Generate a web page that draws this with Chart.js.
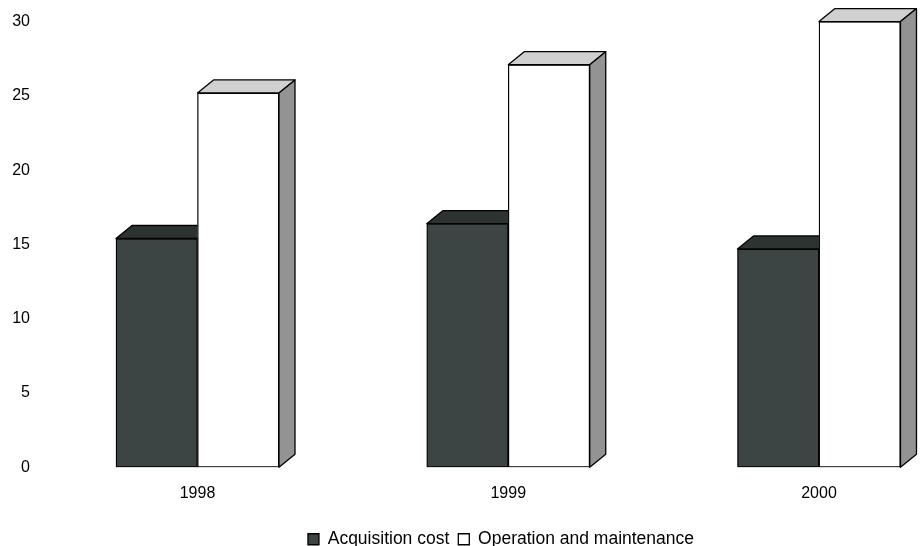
<!DOCTYPE html>
<html>
<head>
<meta charset="utf-8">
<script src="https://cdn.jsdelivr.net/npm/chart.js@4/dist/chart.umd.min.js"></script>
<style>
  html, body { margin: 0; padding: 0; background: #fff; }
  #wrap { width: 923px; height: 546px; }
</style>
</head>
<body>
<div id="wrap"><canvas id="costChart"></canvas></div>
<script>
// data
const years = [1998, 1999, 2000];
const acquisitionCost = [15.4, 16.4, 14.7];
const operationMaintenance = [25.2, 27.1, 30.0];
const yTicks = [0, 5, 10, 15, 20, 25, 30];

const depthX = 16;
const depthY = 13;

// draws the top and side faces so the bars look 3D
const bar3d = {
    id: "bar3d",
    afterLayout(chart) {
        // legend in the original sits a bit right of center
        chart.legend.left += 46;
        chart.legend.right += 46;
    },
    afterDatasetsDraw(chart) {
        const ctx = chart.ctx;
        const metas = chart.getSortedVisibleDatasetMetas();
        metas.forEach((meta, i) => {
            const ds = chart.data.datasets[meta.index];
            const last = i === metas.length - 1;
            meta.data.forEach((bar) => {
                const p = bar.getProps(["x", "y", "base", "width"], true);
                const l = p.x - p.width / 2;
                const r = p.x + p.width / 2;
                ctx.save();
                ctx.lineWidth = 1.3;
                ctx.lineJoin = "round";
                ctx.strokeStyle = "#000";
                if (!last) {
                    // the next bar hides the rest of this top face
                    ctx.beginPath();
                    ctx.rect(0, 0, r, chart.height);
                    ctx.clip();
                }
                ctx.beginPath();
                ctx.moveTo(l, p.y);
                ctx.lineTo(r, p.y);
                ctx.lineTo(r + depthX, p.y - depthY);
                ctx.lineTo(l + depthX, p.y - depthY);
                ctx.closePath();
                ctx.fillStyle = ds.topColor;
                ctx.fill();
                ctx.stroke();
                if (last) {
                    ctx.beginPath();
                    ctx.moveTo(r, p.y);
                    ctx.lineTo(r + depthX, p.y - depthY);
                    ctx.lineTo(r + depthX, p.base - depthY);
                    ctx.lineTo(r, p.base);
                    ctx.closePath();
                    ctx.fillStyle = ds.sideColor;
                    ctx.fill();
                    ctx.stroke();
                }
                ctx.restore();
            });
        });
    }
};

Chart.defaults.font.family = "'Liberation Sans', Arial, sans-serif";
Chart.defaults.font.size = 16;
Chart.defaults.color = "#000";

new Chart(document.getElementById("costChart"), {
    type: "bar",
    data: {
        datasets: [
            {
                label: "Acquisition cost",
                data: years.map((y, i) => ({ x: y, y: acquisitionCost[i] })),
                backgroundColor: "#3c4543",
                topColor: "#2c3331",
                sideColor: "#2c3331",
                borderColor: "#000",
                borderWidth: 1.3,
                borderSkipped: false,
            },
            {
                label: "Operation and maintenance",
                data: years.map((y, i) => ({ x: y, y: operationMaintenance[i] })),
                backgroundColor: "#ffffff",
                topColor: "#d0d0d0",
                sideColor: "#939393",
                borderColor: "#000",
                borderWidth: 1.3,
                borderSkipped: false,
            },
        ],
    },
    options: {
        responsive: true,
        maintainAspectRatio: false,
        animation: false,
        barThickness: 81.5,
        layout: { padding: { top: 20, right: 13, left: 0, bottom: -12 } },
        plugins: {
            tooltip: { enabled: false },
            legend: {
                position: "bottom",
                labels: {
                    boxWidth: 11,
                    boxHeight: 11,
                    padding: 9,
                    color: "#000",
                    font: { size: 17.5 },
                },
            },
        },
        scales: {
            x: {
                type: "linear",
                offset: false,
                min: 1997.4996,
                max: 2000.2929,
                grid: { display: false, drawTicks: false },
                border: { display: false },
                afterBuildTicks: (scale) => {
                    scale.ticks = years.map((v) => ({ value: v }));
                },
                afterFit: (scale) => {
                    scale.height += 1;
                },
                ticks: {
                    padding: 17,
                    callback: (v) => String(v),
                },
            },
            y: {
                min: 0,
                max: 30,
                grid: { display: false, drawTicks: false },
                border: { display: false },
                afterBuildTicks: (scale) => {
                    scale.ticks = yTicks.map((v) => ({ value: v }));
                },
                afterFit: (scale) => {
                    scale.width = 42;
                },
                ticks: { padding: 12 },
            },
        },
    },
    plugins: [bar3d],
});
</script>
</body>
</html>
